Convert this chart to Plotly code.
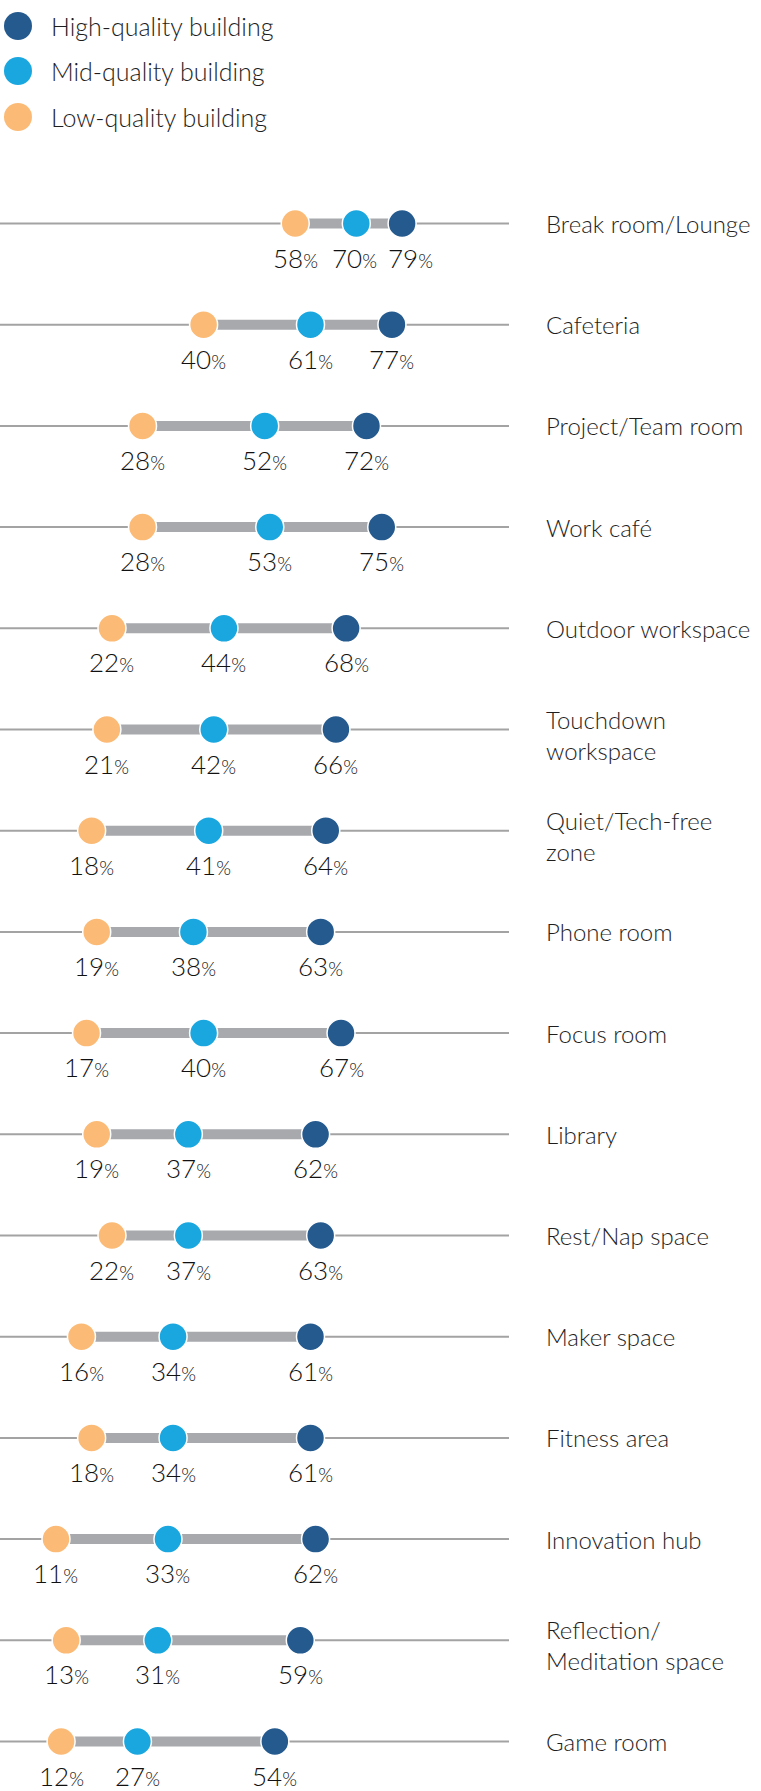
import plotly.graph_objects as go

# Workspace types, top to bottom
categories = [
    "Break room/Lounge", "Cafeteria", "Project/Team room", "Work café",
    "Outdoor workspace", "Touchdown<br>workspace", "Quiet/Tech-free<br>zone",
    "Phone room", "Focus room", "Library", "Rest/Nap space", "Maker space",
    "Fitness area", "Innovation hub", "Reflection/<br>Meditation space", "Game room",
]
high_quality = [79, 77, 72, 75, 68, 66, 64, 63, 67, 62, 63, 61, 61, 62, 59, 54]
mid_quality = [70, 61, 52, 53, 44, 42, 41, 38, 40, 37, 37, 34, 34, 33, 31, 27]
low_quality = [58, 40, 28, 28, 22, 21, 18, 19, 17, 19, 22, 16, 18, 11, 13, 12]

series_names = ["High-quality building", "Mid-quality building", "Low-quality building"]
C_HIGH, C_MID, C_LOW = "#255a8f", "#1aa7e0", "#fbbb77"
TEXT = "#111111"
LABEL = "#1e1e1e"
FONT = "Lato, 'Open Sans', sans-serif"

W, H = 761, 1791
X0, X1 = 0, 509            # pixel span of the 0-100 % scale
PX_PER_PCT = (X1 - X0) / 100
rows = list(range(len(categories)))

fig = go.Figure()

# thin guide line across the full 0-100 scale for each row
gx, gy = [], []
for i in rows:
    gx += [0, 100, None]
    gy += [i, i, None]
fig.add_trace(go.Scatter(x=gx, y=gy, mode="lines", line=dict(color="#a3a3a3", width=2),
                         hoverinfo="skip", showlegend=False, cliponaxis=False))

# thick range bar from low to high
bx, by = [], []
for i in rows:
    bx += [low_quality[i], high_quality[i], None]
    by += [i, i, None]
fig.add_trace(go.Scatter(x=bx, y=by, mode="lines", line=dict(color="#a7a9ac", width=10),
                         hoverinfo="skip", showlegend=False, cliponaxis=False))

for vals, color, name in [(low_quality, C_LOW, series_names[2]),
                          (mid_quality, C_MID, series_names[1]),
                          (high_quality, C_HIGH, series_names[0])]:
    fig.add_trace(go.Scatter(
        x=vals, y=rows, mode="markers", name=name, showlegend=False, cliponaxis=False,
        marker=dict(size=28, color=color, line=dict(color="white", width=1.5)),
    ))

annotations = []
# value labels under each dot; nudge apart labels whose dots sit close together
for i in rows:
    gap_px = (high_quality[i] - mid_quality[i]) * PX_PER_PCT
    nudge = 0 if gap_px >= 56 else (56 - gap_px) / 2
    for v, dx in ((low_quality[i], 0), (mid_quality[i], -nudge * 0.3), (high_quality[i], nudge * 1.7)):
        annotations.append(dict(
            x=v, y=i, xref="x", yref="y", yshift=-34, xshift=dx, showarrow=False,
            text=f"{v}<span style='font-size:19px'>%</span>",
            font=dict(family=FONT, size=26, color=TEXT, weight=300),
            xanchor="center", yanchor="middle",
        ))

# category labels on the right
for i, cat in zip(rows, categories):
    two_lines = "<br>" in cat
    annotations.append(dict(
        x=544 / W, y=i, xref="paper", yref="y", showarrow=False, text=cat,
        xanchor="left", yanchor="middle", align="left",
        yshift=-5 if two_lines else 0,
        font=dict(family=FONT, size=24, color=LABEL, weight=300),
    ))

# legend drawn as dots with text
shapes = []
legend_items = [(series_names[0], C_HIGH, 26), (series_names[1], C_MID, 71), (series_names[2], C_LOW, 117)]
for name, color, py in legend_items:
    shapes.append(dict(
        type="circle", xref="paper", yref="paper",
        xsizemode="pixel", ysizemode="pixel",
        xanchor=18 / W, yanchor=1 - py / H,
        x0=-14, x1=14, y0=-14, y1=14,
        fillcolor=color, line=dict(width=0),
    ))
    annotations.append(dict(
        x=49 / W, y=1 - py / H, xref="paper", yref="paper", showarrow=False,
        text=name, xanchor="left", yanchor="middle",
        font=dict(family=FONT, size=25, color=LABEL, weight=300),
    ))

row0, pitch = 223.5, 101.2
fig.update_layout(
    width=W, height=H, margin=dict(l=0, r=0, t=0, b=0),
    paper_bgcolor="white", plot_bgcolor="white",
    xaxis=dict(range=[0, 100], domain=[X0 / W, X1 / W], visible=False, fixedrange=True),
    yaxis=dict(range=[(H - row0) / pitch, -row0 / pitch], visible=False, fixedrange=True),
    annotations=annotations, shapes=shapes,
    showlegend=False,
)

fig.write_html("out.html")
